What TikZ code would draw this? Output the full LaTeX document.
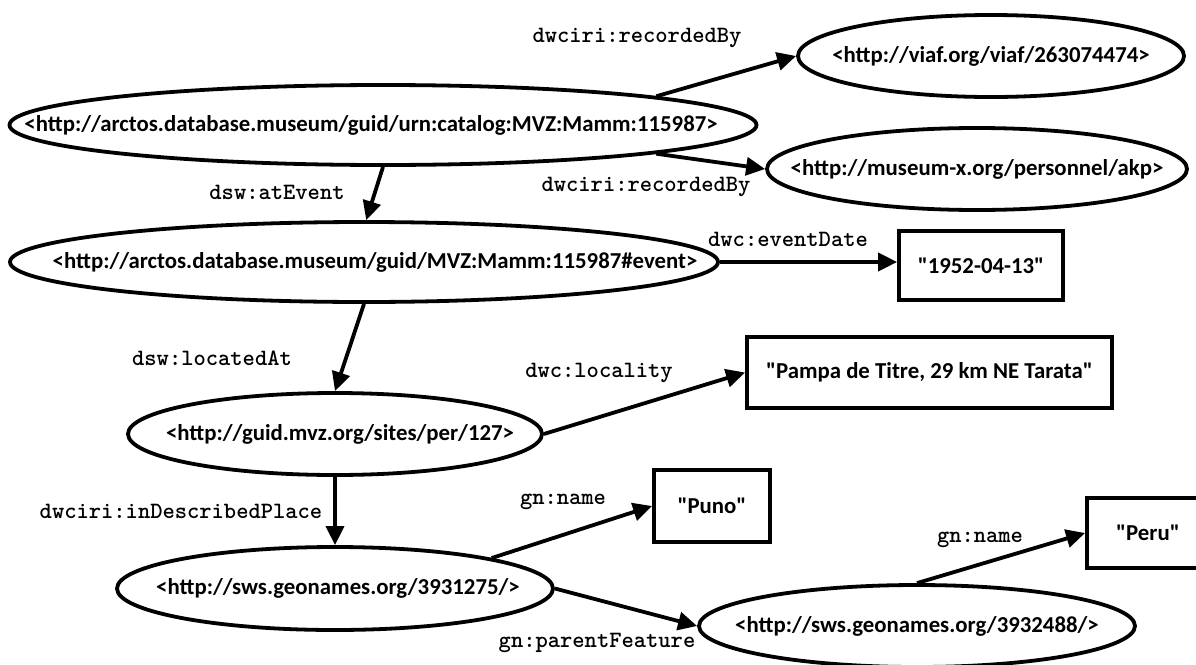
\documentclass[tikz,border=0pt]{standalone}
\usepackage{fontspec}
\setmainfont{Carlito}[Ligatures=TeXOff]
\newfontfamily\lblfont{lmmonolt10-bold.otf}
\usetikzlibrary{arrows.meta,shapes.geometric}
\newcommand\zw[1]{\makebox[0pt]{#1}}
\begin{document}
\begin{tikzpicture}[x=1pt,y=-1pt,
  res/.style={ellipse,draw,line width=3.8pt,inner sep=0pt,font=\bfseries\fontsize{22.8}{27}\selectfont},
  lit/.style={rectangle,draw,line width=3.8pt,inner sep=0pt,font=\bfseries\fontsize{22.8}{27}\selectfont},
  lbl/.style={font=\lblfont\fontsize{23.4}{28}\selectfont,inner sep=0pt},
  arr/.style={line width=3.8pt,-{Triangle[length=19pt,width=18pt]}}]
\fill[white] (0,0) rectangle (1196,664);
\useasboundingbox (0,0) rectangle (1196,664);
\clip (0,0) rectangle (1196,664);

% resource nodes
\node[res,minimum width=747pt,minimum height=80pt] (A) at (383,125) {\zw{<http://arctos.database.museum/guid/urn:catalog:MVZ:Mamm:115987>\hspace{24pt}}};
\node[res,minimum width=386pt,minimum height=82pt] (B) at (991,56) {\zw{<http://viaf.org/viaf/263074474>}};
\node[res,minimum width=420pt,minimum height=82pt] (C) at (977,169) {\zw{<http://museum-x.org/personnel/akp>}};
\node[res,minimum width=708pt,minimum height=80pt] (D) at (364,262) {\zw{\hspace{22pt}<http://arctos.database.museum/guid/MVZ:Mamm:115987\#event>}};
\node[res,minimum width=414pt,minimum height=82pt] (E) at (335,434) {\zw{\hspace{10pt}<http://guid.mvz.org/sites/per/127>}};
\node[res,minimum width=436pt,minimum height=83pt] (F) at (335,588.5) {\zw{\hspace{6pt}<http://sws.geonames.org/3931275/>}};
\node[res,minimum width=436pt,minimum height=82pt] (G) at (917,626) {\zw{<http://sws.geonames.org/3932488/>}};

% literal nodes
\node[lit,minimum width=164pt,minimum height=69pt] (T1) at (981,265.5) {\zw{"1952-04-13"}};
\node[lit,minimum width=365pt,minimum height=71pt] (T2) at (929.5,372.5) {\zw{"Pampa de Titre, 29 km NE Tarata"}};
\node[lit,minimum width=116pt,minimum height=72pt] (T3) at (712,506) {\zw{"Puno"}};
\node[lit,minimum width=122pt,minimum height=70pt] (T4) at (1148,533) {\zw{"Peru"}};

% connectors
\draw[arr] (A.6) -- (B.west);
\draw[arr] (A.-6.5) -- (C.west);
\draw[arr] (A.south) -- (D.87);
\draw[arr] (D.east) -- (D.east -| T1.west);
\draw[arr] (D.south) -- (E.north);
\draw[arr] (E.east) -- (T2.west);
\draw[arr] (E.south) -- (F.north);
\draw[arr] (F.11) -- (T3.west);
\draw[arr] (F.east) -- (G.west);
\draw[arr] (G.north) -- (T4.west);

% connector labels
\node[lbl] (l1) at (637,38) {dwciri:recordedBy};
\node[lbl] (l2) at (646,187) {dwciri:recordedBy};
\node[lbl] (l3) at (277,192) {dsw:atEvent};
\node[lbl] (l4) at (788,239) {dwc:eventDate};
\node[lbl] (l5) at (212,358) {dsw:locatedAt};
\node[lbl] (l6) at (599,373) {dwc:locality};
\node[lbl] (l7) at (181,511) {dwciri:inDescribedPlace};
\node[lbl] (l8) at (563,502) {gn:name};
\node[lbl] (l9) at (597,643) {gn:parentFeature};
\node[lbl] (l10) at (980,540) {gn:name};
\end{tikzpicture}
\end{document}
